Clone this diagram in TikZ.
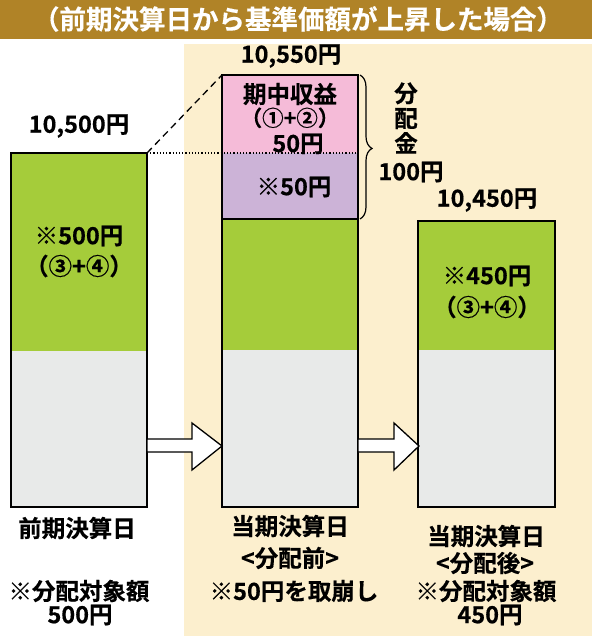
\documentclass[tikz,border=0pt]{standalone}
\usepackage{fontspec}
\setmainfont{Noto Sans CJK JP}[BoldFont={Noto Sans CJK JP Bold}, BoldFeatures={FakeBold=0.4}]
\usetikzlibrary{decorations.pathreplacing}
\definecolor{titlebg}{RGB}{176,131,39}
\definecolor{cream}{RGB}{252,239,206}
\definecolor{bargreen}{RGB}{165,204,58}
\definecolor{bargray}{RGB}{232,234,233}
\definecolor{barpink}{RGB}{245,187,216}
\definecolor{barpurple}{RGB}{204,179,215}
\begin{document}
\begin{tikzpicture}[x=1pt,y=-1pt,
  seg/.style={inner sep=0pt, outer sep=0pt, anchor=north west, draw=none},
  outline/.style={draw=black, line width=2pt},
  lbl/.style={font=\bfseries\fontsize{23.5}{27}\selectfont, inner sep=0pt, align=center},
  tight/.style={text height=15pt, text depth=1pt},
  blockarrow/.style={draw=black, fill=white, line width=1.3pt, line join=miter},
  titletext/.style={font=\bfseries\fontsize{26.5}{30}\selectfont, text=white, inner sep=0pt}]
\useasboundingbox (0,0) rectangle (592,636);
\fill[titlebg] (0,0) rectangle (592,39);
\node[titletext] (title) at (298,19) {（前期決算日から基準価額が上昇した場合）};
\fill[cream] (184,44) rectangle (592,636);

% left bar
\node[seg, fill=bargreen, minimum width=136pt, minimum height=198pt] (Lg) at (11,153) {};
\node[seg, fill=bargray, minimum width=136pt, minimum height=156pt] (Ly) at (11,351) {};
\draw[outline] (Lg.north west) rectangle (Ly.south east);

% middle bar
\node[seg, fill=barpink, minimum width=136pt, minimum height=78pt] (Mp) at (222,75) {};
\node[seg, fill=barpurple, minimum width=136pt, minimum height=66pt] (Mu) at (222,153) {};
\node[seg, fill=bargreen, minimum width=136pt, minimum height=131pt] (Mg) at (222,219) {};
\node[seg, fill=bargray, minimum width=136pt, minimum height=157pt] (My) at (222,350) {};
\draw[outline] (Mp.north west) rectangle (Mu.south east);
\draw[outline] (Mg.north west) rectangle (My.south east);

% right bar
\node[seg, fill=bargreen, minimum width=137pt, minimum height=129pt] (Rg) at (418,221) {};
\node[seg, fill=bargray, minimum width=137pt, minimum height=157pt] (Ry) at (418,350) {};
\draw[outline] (Rg.north west) rectangle (Ry.south east);

% dashed and dotted guide lines
\draw[black, line width=1.3pt, dash pattern=on 7pt off 4.5pt] (Lg.north east) -- (Mp.north west);
\draw[black, line width=1.2pt, dotted] (Lg.north east) -- (Mp.south east);

% brace
\path (Mp.north east) ++(2,0) coordinate (bt);
\path (Mu.south east) ++(2,0) coordinate (bb);
\draw[black, line width=1.2pt, decorate, decoration={brace, amplitude=12pt, aspect=0.51}] (bt) -- (bb);

% block arrows
\draw[blockarrow] (147,439) -- (192,439) -- (192,423) -- (222,446) -- (192,470) -- (192,452) -- (147,452) -- cycle;
\draw[blockarrow] (358,439) -- (394,439) -- (394,423) -- (419,446) -- (394,470) -- (394,452) -- (358,452) -- cycle;

% left labels
\node[lbl] (lt1) at (79,126) {10,500円};
\node[lbl] (lt2) at (79,236) {※500円};
\node[lbl] (lt3) at (79,266) {（③+④）};
\node[lbl] (lb1) at (77,528) {前期決算日};
\node[lbl] (lb2) at (79,591) {※分配対象額};
\node[lbl] (lb3) at (80,615) {500円};

% middle labels
\node[lbl] (mt1) at (291,56) {10,550円};
\node[lbl] (m1) at (290,94) {期中収益};
\node[lbl, tight, font=\bfseries\fontsize{21.5}{24}\selectfont] (m2) at (290,119) {（①+②）};
\node[lbl, tight] (m3) at (298,145) {50円};
\node[lbl] (m4) at (294,187) {※50円};
\node[lbl] (mb1) at (290,526) {当期決算日};
\node[lbl] (mb2) at (290,558) {<分配前>};
\node[lbl] (mb3) at (294,591) {※50円を取崩し};

% right labels
\node[lbl] (rt1) at (487,200) {10,450円};
\node[lbl] (r1) at (487,276) {※450円};
\node[lbl] (r2) at (487,307) {（③+④）};
\node[lbl] (rb1) at (486,536) {当期決算日};
\node[lbl] (rb2) at (485,563) {<分配後>};
\node[lbl] (rb3) at (486,591) {※分配対象額};
\node[lbl] (rb4) at (490,615) {450円};

% brace labels
\node[lbl, font=\bfseries\fontsize{23.5}{25}\selectfont] (bk1) at (406,118) {分\\配\\金};
\node[lbl] (bk2) at (411,172) {100円};
\end{tikzpicture}
\end{document}
